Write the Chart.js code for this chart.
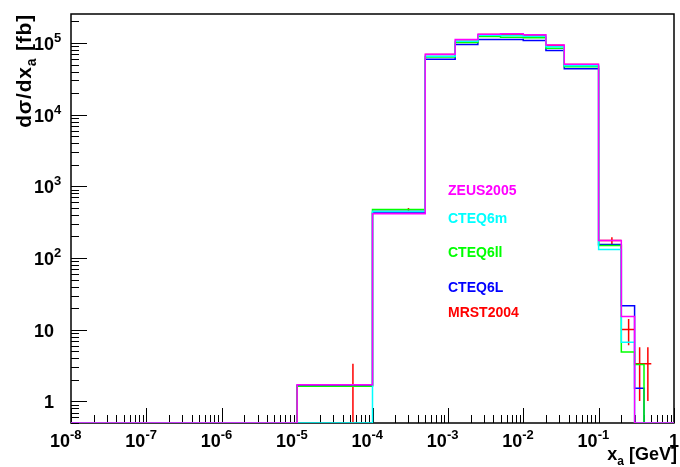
<!DOCTYPE html>
<html>
<head>
<meta charset="utf-8">
<title>d&sigma;/dx_a</title>
<script src="https://cdn.jsdelivr.net/npm/chart.js@4.4.0/dist/chart.umd.min.js"></script>
<style>
  html, body { margin: 0; padding: 0; background: #fff; }
  #wrap { position: relative; width: 680px; height: 467px; }
</style>
</head>
<body>
<div id="wrap"><canvas id="xsec"></canvas></div>
<script>
// bin edges of the x_a histograms (GeV)
const edges = [1e-8, 1e-5, 1e-4, 5e-4, 1.25e-3, 2.5e-3, 5e-3, 1e-2, 2e-2, 3.5e-2, 0.1, 0.2, 0.3, 0.4, 0.5, 1];

// dsigma/dx_a per bin [fb], one array per PDF set
const zeus2005 = [0, 1.71, 415, 69800, 112000, 133000, 135000, 130000, 94000, 50600, 176, 15.3, 0, 0, 0];
const cteq6m   = [0, 0,    451, 65500, 106000, 128000, 127000, 124000, 89000, 48100, 132, 6.7, 0, 0, 0];
const cteq6ll  = [0, 1.63, 476, 64000, 102000, 123000, 120000, 118000, 84600, 46600, 150, 4.9, 3.28, 0, 0];
const cteq6l   = [0, 1.68, 425, 59400, 95000, 112000, 112000, 108000, 78600, 43700, 155, 21.6, 1.53, 0, 0];
const mrst2004 = [0, 1.7,  472, 69000, 111000, 131000, 133000, 128000, 93000, 50000, 176, 10.1, 3.36, 3.36, 0];
const mrst2004Err = [0, 1.65, 27, 500, 700, 800, 800, 800, 600, 400, 19, 4.0, 2.35, 2.35, 0];

const legendNames = ['ZEUS2005', 'CTEQ6m', 'CTEQ6ll', 'CTEQ6L', 'MRST2004'];
const xTickExponents = [-8, -7, -6, -5, -4, -3, -2, -1, 0];
const yTickExponents = [0, 1, 2, 3, 4, 5];

const X_MIN = 1e-8, X_MAX = 1;
const Y_MIN = 0.5, Y_MAX = 2.54e5;
const FONT = '"Liberation Sans", Arial, Helvetica, sans-serif';
const COLORS = ['#ff00ff', '#00ffff', '#00ff00', '#0000ff', '#ff0000'];

// empty bins sit on the lower edge of the frame, like ROOT does on a log axis
function histPoints(values) {
  const pts = values.map((v, i) => ({ x: edges[i], y: v > 0 ? v : Y_MIN }));
  pts.push({ x: edges[edges.length - 1], y: pts[pts.length - 1].y });
  return pts;
}

// horizontal bar over the bin plus vertical error bar at the bin centre
function errorBarPoints(values, errs) {
  const pts = [];
  values.forEach((v, i) => {
    if (v <= 0) return;
    const lo = edges[i], hi = edges[i + 1], mid = (lo + hi) / 2;
    pts.push({ x: lo, y: v }, { x: hi, y: v }, { x: hi, y: null });
    pts.push({ x: mid, y: v - errs[i] }, { x: mid, y: v + errs[i] }, { x: mid, y: null });
  });
  return pts;
}

function histDataset(label, values, color) {
  return {
    label: label,
    data: histPoints(values),
    borderColor: color,
    borderWidth: 1.5,
    pointRadius: 0,
    stepped: 'before',
    fill: false,
  };
}

// text with a superscript / subscript part
function drawScript(ctx, base, script, x, y, size, raise) {
  ctx.font = 'bold ' + size + 'px ' + FONT;
  ctx.fillText(base, x, y);
  const w = ctx.measureText(base).width;
  ctx.font = 'bold ' + Math.round(size * 0.7) + 'px ' + FONT;
  ctx.fillText(script, x + w, y + raise);
  return x + w + ctx.measureText(script).width;
}

const frameAndTicks = {
  id: 'frameAndTicks',
  beforeDatasetsDraw(chart) {
    const { ctx, chartArea: a, scales } = chart;
    ctx.save();
    ctx.strokeStyle = '#000';
    ctx.lineWidth = 1.5;
    ctx.strokeRect(a.left, a.top, a.right - a.left, a.bottom - a.top);

    ctx.lineWidth = 1;
    ctx.beginPath();
    // x axis: major ticks at decades, minor at 2..9
    for (let e = -8; e <= 0; e++) {
      for (let m = 1; m <= 9; m++) {
        const v = m * Math.pow(10, e);
        if (v > X_MAX * 1.0001) break;
        const px = Math.round(scales.x.getPixelForValue(v)) + 0.5;
        const len = m === 1 ? 15 : 8;
        ctx.moveTo(px, a.bottom);
        ctx.lineTo(px, a.bottom - len);
      }
    }
    // y axis
    for (let e = -1; e <= 5; e++) {
      for (let m = 1; m <= 9; m++) {
        const v = m * Math.pow(10, e);
        if (v < Y_MIN || v > Y_MAX) continue;
        const py = Math.round(scales.y.getPixelForValue(v)) + 0.5;
        const len = m === 1 ? 16 : 8;
        ctx.moveTo(a.left, py);
        ctx.lineTo(a.left + len, py);
      }
    }
    ctx.stroke();
    ctx.restore();
  },
  afterDraw(chart) {
    const { ctx, scales } = chart;
    ctx.save();
    ctx.fillStyle = '#000';
    ctx.textBaseline = 'alphabetic';
    ctx.textAlign = 'left';

    // x tick labels
    xTickExponents.forEach(e => {
      const px = scales.x.getPixelForValue(Math.pow(10, e));
      ctx.font = 'bold 18px ' + FONT;
      if (e === 0) {
        const w = ctx.measureText('1').width;
        ctx.fillText('1', px - w / 2, 447);
      } else {
        const w = ctx.measureText('10').width;
        drawScript(ctx, '10', String(e), px - w - 1, 447, 18, -8);
      }
    });

    // y tick labels
    yTickExponents.forEach(e => {
      const py = scales.y.getPixelForValue(Math.pow(10, e));
      ctx.font = 'bold 18px ' + FONT;
      const base = e === 0 ? '1' : '10';
      const w = ctx.measureText(base).width;
      if (e <= 1) {
        ctx.fillText(base, 54 - w, py + 7);
      } else {
        drawScript(ctx, '10', String(e), 54 - w, py + 7, 18, -8);
      }
    });

    // x axis title, right aligned at the frame edge
    ctx.font = 'bold 18px ' + FONT;
    const xw = ctx.measureText('x').width;
    ctx.font = 'bold 12px ' + FONT;
    const aw = ctx.measureText('a').width;
    ctx.font = 'bold 18px ' + FONT;
    const gw = ctx.measureText(' [GeV]').width;
    const tx = 677 - (xw + aw + gw);
    ctx.fillText('x', tx, 460);
    ctx.font = 'bold 12px ' + FONT;
    ctx.fillText('a', tx + xw, 465);
    ctx.font = 'bold 18px ' + FONT;
    ctx.fillText(' [GeV]', tx + xw + aw, 460);

    // y axis title, rotated, ending at the top of the frame
    ctx.translate(31, 14);
    ctx.rotate(-Math.PI / 2);
    ctx.letterSpacing = '0.8px';
    ctx.font = 'bold 21px ' + FONT;
    const p1 = 'd\u03c3/dx';
    const w1 = ctx.measureText(p1).width;
    const w3 = ctx.measureText(' [fb]').width;
    ctx.font = 'bold 14px ' + FONT;
    const w2 = ctx.measureText('a').width;
    const ty = -(w1 + w2 + w3);
    ctx.font = 'bold 21px ' + FONT;
    ctx.fillText(p1, ty, 0);
    ctx.font = 'bold 14px ' + FONT;
    ctx.fillText('a', ty + w1, 5);
    ctx.font = 'bold 21px ' + FONT;
    ctx.fillText(' [fb]', ty + w1 + w2, 0);
    ctx.restore();

    // legend entries as coloured labels
    ctx.save();
    ctx.font = 'bold 14px ' + FONT;
    const legendY = [195, 223, 257, 292, 317];
    legendNames.forEach((name, i) => {
      ctx.fillStyle = COLORS[i];
      ctx.fillText(name, 448, legendY[i]);
    });
    ctx.restore();
  }
};

// first dataset is drawn last, so ZEUS2005 ends up on top and MRST2004 underneath
new Chart(document.getElementById('xsec'), {
  type: 'line',
  data: {
    datasets: [
      histDataset('ZEUS2005', zeus2005, COLORS[0]),
      histDataset('CTEQ6m', cteq6m, COLORS[1]),
      histDataset('CTEQ6ll', cteq6ll, COLORS[2]),
      histDataset('CTEQ6L', cteq6l, COLORS[3]),
      {
        label: 'MRST2004',
        data: errorBarPoints(mrst2004, mrst2004Err),
        borderColor: COLORS[4],
        borderWidth: 1.5,
        pointRadius: 0,
        spanGaps: false,
        fill: false,
      },
    ],
  },
  options: {
    responsive: true,
    maintainAspectRatio: false,
    animation: false,
    layout: { padding: { left: 71, top: 14, right: 6, bottom: 44 } },
    plugins: {
      legend: { display: false },
      tooltip: { enabled: false },
    },
    scales: {
      x: { type: 'logarithmic', min: X_MIN, max: X_MAX, display: false },
      y: { type: 'logarithmic', min: Y_MIN, max: Y_MAX, display: false },
    },
  },
  plugins: [frameAndTicks],
});
</script>
</body>
</html>
